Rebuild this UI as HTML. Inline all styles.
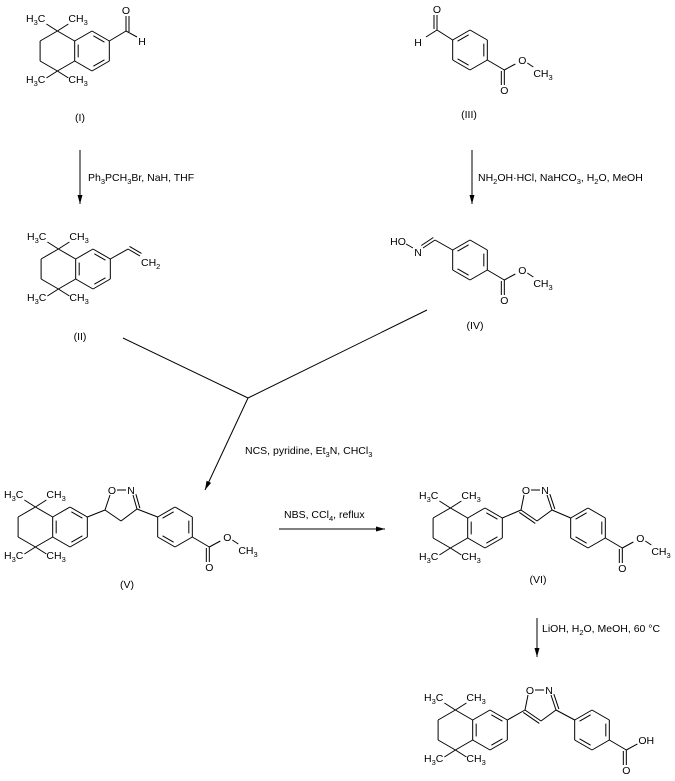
<!DOCTYPE html>
<html><head><meta charset="utf-8"><style>
html,body{margin:0;padding:0;background:#fff;}
svg{display:block;}
text{font-family:"Liberation Sans",Arial,sans-serif;font-size:10.5px;fill:#000;}
</style></head><body>
<svg id="s" width="675" height="781" viewBox="0 0 675 781" xmlns="http://www.w3.org/2000/svg"></svg>
<script>
var out=[];
function L(x1,y1,x2,y2){out.push('<line x1="'+x1+'" y1="'+y1+'" x2="'+x2+'" y2="'+y2+'" stroke="#000" stroke-width="1"/>');}
function T(x,y,s,a){out.push('<text x="'+x+'" y="'+y+'"'+(a?' text-anchor="'+a+'"':'')+'>'+s+'</text>');}
function sub(n){return '<tspan font-size="7.5" baseline-shift="-3">'+n+'</tspan>';}
function hex(cx,cy,r){r=r||20;var h=0.866*r;return [[cx,cy-r],[cx+h,cy-r/2],[cx+h,cy+r/2],[cx,cy+r],[cx-h,cy+r/2],[cx-h,cy-r/2]];}
function inner(a,b,cx,cy){
  var mx=(a[0]+b[0])/2,my=(a[1]+b[1])/2,dx=cx-mx,dy=cy-my,d=Math.hypot(dx,dy),o=3.5;
  var ox=dx/d*o,oy=dy/d*o,f=0.18;
  var x1=a[0]+(b[0]-a[0])*f+ox,y1=a[1]+(b[1]-a[1])*f+oy,x2=b[0]+(a[0]-b[0])*f+ox,y2=b[1]+(a[1]-b[1])*f+oy;
  L(x1,y1,x2,y2);
}
function ring(cx,cy,r,dbl){var v=hex(cx,cy,r);for(var i=0;i<6;i++){var a=v[i],b=v[(i+1)%6];L(a[0],a[1],b[0],b[1]);}
  dbl.forEach(function(i){inner(v[i],v[(i+1)%6],cx,cy);});return v;}
function par(x1,y1,x2,y2,o){var dx=x2-x1,dy=y2-y1,d=Math.hypot(dx,dy),nx=-dy/d*o,ny=dx/d*o;L(x1,y1,x2,y2);L(x1+nx,y1+ny,x2+nx,y2+ny);}
function tetralin(cx,cy){
  var v=ring(cx,cy,20,[0,2,4]);
  var qt=[cx-34.6,cy-20],qb=[cx-34.6,cy+20];
  L(v[5][0],v[5][1],qt[0],qt[1]);L(qt[0],qt[1],cx-51.9,cy-10);L(cx-51.9,cy-10,cx-51.9,cy+10);
  L(cx-51.9,cy+10,qb[0],qb[1]);L(qb[0],qb[1],v[4][0],v[4][1]);
  L(qt[0],qt[1],qt[0]-11,qt[1]-7);L(qt[0],qt[1],qt[0]+11,qt[1]-7);
  L(qb[0],qb[1],qb[0]-11,qb[1]+7);L(qb[0],qb[1],qb[0]+11,qb[1]+7);
  T(qt[0]-12,qt[1]-9,'H'+sub(3)+'C','end');T(qt[0]+11,qt[1]-9,'CH'+sub(3));
  T(qb[0]-12,qb[1]+12,'H'+sub(3)+'C','end');T(qb[0]+11,qb[1]+12,'CH'+sub(3));
  return v;
}
function ester(P,acid){
  var cx=P[0]+17,cy=P[1]+10;L(P[0],P[1],cx,cy);
  L(cx,cy,cx,cy+15);L(cx-3,cy+1,cx-3,cy+15);T(cx,cy+24,'O','middle');
  L(cx,cy,cx+11,cy-6);
  if(acid){T(cx+12,cy-6,'OH');}
  else{T(cx+18,cy-6,'O','middle');L(cx+23,cy-7,cx+29,cy-3);T(cx+29,cy+7,'CH'+sub(3));}
}
function arrow(x1,y1,x2,y2){L(x1,y1,x2,y2);var dx=x2-x1,dy=y2-y1,d=Math.hypot(dx,dy),ux=dx/d,uy=dy/d,l=9,w=2.5;
  out.push('<polygon points="'+x2+','+y2+' '+(x2-ux*l-uy*w)+','+(y2-uy*l+ux*w)+' '+(x2-ux*l+uy*w)+','+(y2-uy*l-ux*w)+'" fill="#000"/>');}
function isox(v1,c5,o,n,c3,c4,aromatic,pc){
  L(v1[0],v1[1],c5[0],c5[1]);
  L(c5[0],c5[1],o[0]-2,o[1]+5);T(o[0],o[1]+4,'O','middle');
  L(o[0]+5,o[1],n[0]-5,n[1]);T(n[0],n[1]+4,'N','middle');
  par(n[0]+2,n[1]+5,c3[0],c3[1],-3);
  L(c3[0],c3[1],c4[0],c4[1]);
  if(aromatic)par(c4[0],c4[1],c5[0],c5[1],-3);else L(c4[0],c4[1],c5[0],c5[1]);
  var pv=ring(pc[0],pc[1],20,[5,1,3]);
  L(c3[0],c3[1],pv[5][0],pv[5][1]);
  return pv;
}
// I
var v=tetralin(92,51);
L(v[1][0],v[1][1],126,31);L(126,31,126,16);L(129,32,129,16);T(126,14,'O','middle');
L(126,31,137,37);T(142,45,'H','middle');T(80,121,'(I)','middle');
// II
v=tetralin(93,269);
L(v[1][0],v[1][1],128,249);par(128,249,140,256,-3);T(141,266,'CH'+sub(2));T(80,340,'(II)','middle');
// III
var r=ring(470,50,20,[5,1,3]);
L(r[5][0],r[5][1],437,30);L(437,30,437,15);L(434,29,434,15);T(437,13,'O','middle');
L(437,30,426,37);T(418,46,'H','middle');
ester(r[2]);T(469,118,'(III)','middle');
// IV
r=ring(470,260,20,[5,1,3]);
L(r[5][0],r[5][1],435,240);par(435,240,423,248,3);T(418,256,'N','middle');L(413,248,406,244);T(398,245,'HO','middle');
ester(r[2]);T(475,329,'(IV)','middle');
// arrows & reagents
arrow(80,150,80,204);T(88,181,'Ph'+sub(3)+'PCH'+sub(3)+'Br, NaH, THF');
arrow(472,150,472,204);T(478,181,'NH'+sub(2)+'OH·HCl, NaHCO'+sub(3)+', H'+sub(2)+'O, MeOH');
L(123,338,248,398);L(427,310,248,398);arrow(248,398,205,490);
T(245,454,'NCS, pyridine, Et'+sub(3)+'N, CHCl'+sub(3));
arrow(279,529,385,529);T(284,518,'NBS, CCl'+sub(4)+', reflux');
arrow(537,618,537,657);T(542,632,'LiOH, H'+sub(2)+'O, MeOH, 60 °C');
// V
v=tetralin(70,527);
var pv=isox(v[1],[105,510],[112,490],[131,490],[137,509],[121,521],false,[175,527]);
ester(pv[2]);T(127,588,'(V)','middle');
// VI
v=tetralin(485,528);
pv=isox(v[1],[521,510],[526,490],[545,490],[552,510],[537,521],true,[588,528]);
ester(pv[2]);T(538,583,'(VI)','middle');
// VII
v=tetralin(490,730);
pv=isox(v[1],[525,710],[530,690],[549,690],[556,710],[541,721],true,[592,730]);
ester(pv[2],true);
document.getElementById('s').innerHTML=out.join('');
</script>
</body></html>
